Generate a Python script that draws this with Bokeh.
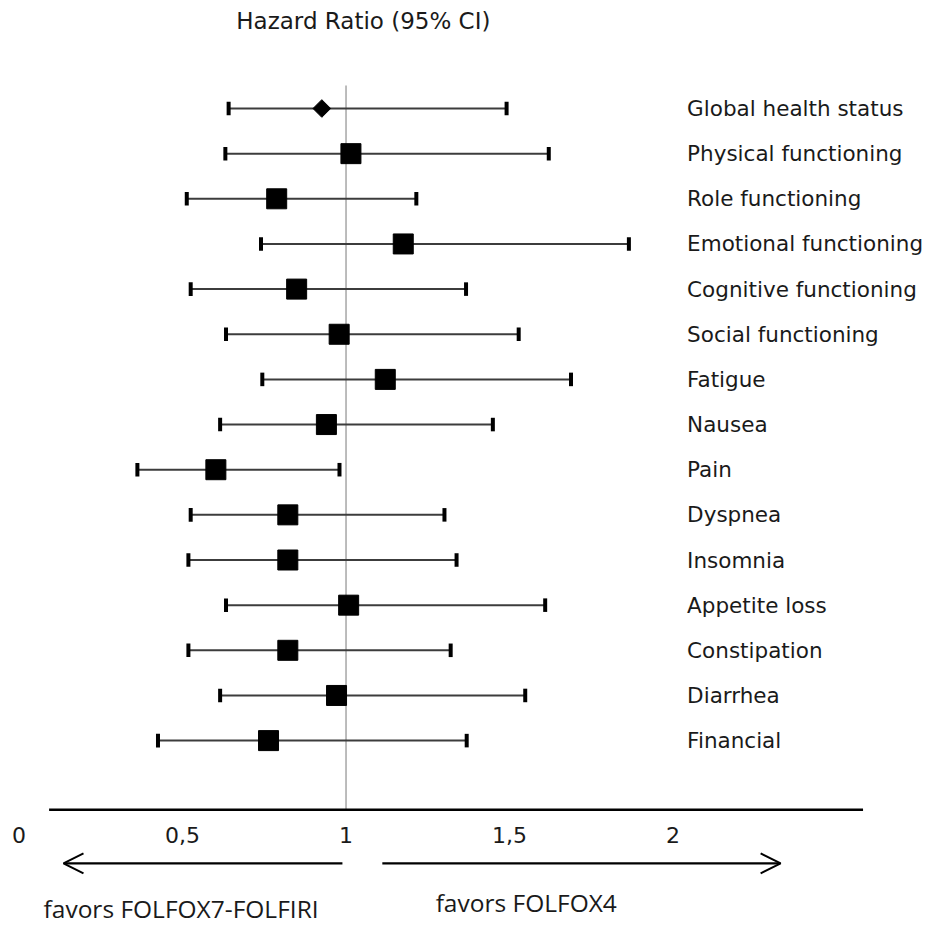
import numpy as np
from bokeh.plotting import figure
from bokeh.models import Range1d, ColumnDataSource, Arrow, OpenHead
from bokeh.core.properties import value
from bokeh.embed import file_html
from bokeh.resources import INLINE

# ---- data ----
categories = ["Global health  status", "Physical functioning", "Role functioning",
              "Emotional functioning", "Cognitive functioning", "Social functioning",
              "Fatigue", "Nausea", "Pain", "Dyspnea", "Insomnia", "Appetite loss",
              "Constipation", "Diarrhea", "Financial"]
hr = [0.926, 1.015, 0.788, 1.175, 0.849, 0.979, 1.12, 0.94, 0.602, 0.822, 0.822,
      1.008, 0.822, 0.971, 0.763]
lower = [0.641, 0.631, 0.513, 0.74, 0.525, 0.633, 0.744, 0.615, 0.362, 0.525, 0.518,
         0.633, 0.518, 0.615, 0.425]
upper = [1.491, 1.62, 1.215, 1.865, 1.367, 1.528, 1.688, 1.449, 0.98, 1.301, 1.338,
         1.609, 1.32, 1.548, 1.369]
tick_values = [0, 0.5, 1, 1.5, 2]
tick_labels = ["0", "0,5", "1", "1,5", "2"]
title_text = "Hazard Ratio (95% CI)"
left_note = "favors FOLFOX7-FOLFIRI"
right_note = "favors FOLFOX4"

rows = list(range(len(categories)))
src = ColumnDataSource(dict(y=rows, hr=hr, lo=lower, up=upper, cat=categories))

W = H = 925
p = figure(width=W, height=H, output_backend="svg", toolbar_location=None,
           x_range=Range1d(-0.0566, 2.772), y_range=Range1d(18.095, -2.392),
           min_border=0)
p.axis.visible = False
p.grid.visible = False
p.outline_line_color = None
p.background_fill_color = "white"

axis_y = 15.53
label_font = value("DejaVu Sans")
note_font = value("Open Sans")

# reference line at HR = 1
p.segment(x0=[1], y0=[-0.51], x1=[1], y1=[axis_y], line_color="#a6a6a6", line_width=1.5)

# CI lines
p.segment(x0="lo", y0="y", x1="up", y1="y", source=src, line_color="#3c3c3c", line_width=2)
cap = 0.15
src_caps = ColumnDataSource(dict(
    x=lower + upper,
    y0=[r - cap for r in rows] * 2,
    y1=[r + cap for r in rows] * 2))
p.segment(x0="x", y0="y0", x1="x", y1="y1", source=src_caps, line_color="black", line_width=4)

# point estimates
p.scatter(x=hr[1:], y=rows[1:], marker="square", size=20, fill_color="black", line_color="black")
p.scatter(x=hr[:1], y=rows[:1], marker="square", size=12.5, angle=np.pi / 4,
          fill_color="black", line_color="black")

# labels
p.text(x=2.043, y="y", text="cat", source=src, text_font=label_font,
       text_font_size="21.5px", text_baseline="middle", text_align="left", text_color="#1a1a1a")

# title
p.text(x=[1.053], y=[-1.927], text=[title_text], text_font=label_font,
       text_font_size="23px", text_baseline="middle", text_align="center", text_color="#1a1a1a")

# horizontal axis line
p.segment(x0=[0.092], y0=[axis_y], x1=[2.581], y1=[axis_y], line_color="black", line_width=2.5)

# tick labels
p.text(x=tick_values, y=[16.1] * len(tick_values), text=tick_labels,
       text_font=label_font, text_font_size="22px",
       text_baseline="middle", text_align="center", text_color="#1a1a1a")

# arrows
arrow_y = 16.72
p.add_layout(Arrow(x_start=0.989, y_start=arrow_y, x_end=0.136, y_end=arrow_y,
                   line_width=2.2, line_color="black",
                   end=OpenHead(size=20, line_width=2, line_color="black")))
p.add_layout(Arrow(x_start=1.111, y_start=arrow_y, x_end=2.329, y_end=arrow_y,
                   line_width=2.2, line_color="black",
                   end=OpenHead(size=20, line_width=2, line_color="black")))

# notes
p.text(x=[0.075], y=[18.08], text=[left_note], text_font=note_font,
       text_font_size="24.5px", text_baseline="bottom", text_align="left", text_color="#1a1a1a")
p.text(x=[1.274], y=[17.95], text=[right_note], text_font=note_font,
       text_font_size="24.5px", text_baseline="bottom", text_align="left", text_color="#1a1a1a")

open("out.html", "w").write(file_html(p, INLINE))
